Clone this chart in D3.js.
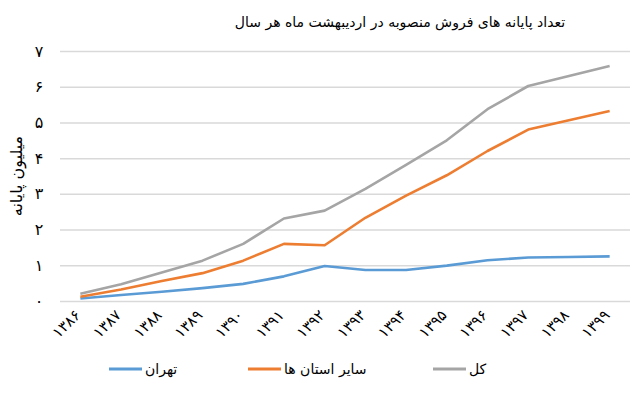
<!DOCTYPE html>
<html>
<head>
<meta charset="utf-8">
<script src="https://cdn.jsdelivr.net/npm/d3@7"></script>
<style>
  body { margin: 0; background: #fff; }
  text { font-family: "DejaVu Sans", sans-serif; fill: #000; }
  .grid line { stroke: #d9d9d9; stroke-width: 1.5; }
  .grid path { display: none; }
  .line { fill: none; stroke-width: 2.6; stroke-linejoin: round; }
</style>
</head>
<body>
<svg id="chart"></svg>
<script>
var years = ["۱۳۸۶", "۱۳۸۷", "۱۳۸۸", "۱۳۸۹", "۱۳۹۰", "۱۳۹۱", "۱۳۹۲", "۱۳۹۳", "۱۳۹۴", "۱۳۹۵", "۱۳۹۶", "۱۳۹۷", "۱۳۹۸", "۱۳۹۹"];
var tehran = [0.07, 0.17, 0.26, 0.36, 0.48, 0.69, 0.98, 0.87, 0.87, 0.99, 1.14, 1.22, 1.23, 1.25];
var provinces = [0.12, 0.32, 0.56, 0.78, 1.13, 1.6, 1.56, 2.33, 2.95, 3.52, 4.2, 4.8, 5.06, 5.32];
var total = [0.2, 0.47, 0.8, 1.13, 1.6, 2.31, 2.53, 3.14, 3.81, 4.5, 5.37, 6.02, 6.3, 6.58];
var yTicks = [0, 1, 2, 3, 4, 5, 6, 7];
var seriesNames = ["تهران", "سایر استان ها", "کل"];
var colors = ["#5b9bd5", "#ed7d31", "#a5a5a5"];

var title = "تعداد پایانه های فروش منصوبه در اردیبهشت ماه هر سال";
var yLabel = "میلیون پایانه";

var margin = {top: 51, right: 10, bottom: 94, left: 60};
var width = 640 - margin.left - margin.right,
    height = 395 - margin.top - margin.bottom;

var faDigits = "۰۱۲۳۴۵۶۷۸۹";
function fa(n) { return String(n).replace(/\d/g, function(c){ return faDigits[+c]; }); }

var svg = d3.select("#chart")
    .attr("width", 640)
    .attr("height", 395)
  .append("g")
    .attr("transform", "translate(" + margin.left + "," + margin.top + ")");

var x = d3.scaleBand().domain(years).range([0, width]);
var y = d3.scaleLinear().domain([0, 7]).range([height, 0]);

//Gridlines
svg.append("g")
  .attr("class", "grid")
  .call(d3.axisLeft(y).tickValues(yTicks).tickSize(-width).tickFormat(""));

//Y tick labels
svg.selectAll(".ytick")
  .data(yTicks)
  .enter().append("text")
    .attr("class", "ytick")
    .attr("x", -21)
    .attr("y", function(d){ return y(d); })
    .attr("dy", "0.35em")
    .attr("text-anchor", "middle")
    .style("font-size", "16px")
    .text(function(d){ return fa(d); });

//X labels, rotated
svg.selectAll(".xtick")
  .data(years)
  .enter().append("text")
    .attr("class", "xtick")
    .attr("transform", function(d){
      return "translate(" + (x(d) + x.bandwidth() / 2 + 1) + "," + (height + 15) + ") rotate(-45)";
    })
    .attr("text-anchor", "end")
    .style("font-size", "15px")
    .text(function(d){ return d; });

//Y axis label
svg.append("text")
  .attr("transform", "rotate(-90)")
  .attr("x", 0 - height / 2)
  .attr("y", -38)
  .attr("text-anchor", "middle")
  .style("font-size", "16px")
  .text(yLabel);

//Title
svg.append("text")
  .attr("x", 400 - margin.left)
  .attr("y", 27 - margin.top)
  .attr("text-anchor", "middle")
  .style("font-size", "14px")
  .text(title);

//Lines
var line = d3.line()
  .x(function(d, i){ return x(years[i]) + x.bandwidth() / 2; })
  .y(function(d){ return y(d); });

[tehran, provinces, total].forEach(function(s, i){
  svg.append("path")
    .datum(s)
    .attr("class", "line")
    .style("stroke", colors[i])
    .attr("d", line);
});

//Legend
var legendX = [109, 248, 433];
var legend = d3.select("#chart").selectAll(".legend")
  .data(seriesNames)
  .enter().append("g")
    .attr("class", "legend")
    .attr("transform", function(d, i){ return "translate(" + legendX[i] + ",369)"; });

legend.append("line")
  .attr("x1", 0).attr("x2", 33)
  .attr("y1", 0).attr("y2", 0)
  .style("stroke", function(d, i){ return colors[i]; })
  .style("stroke-width", 3);

legend.append("text")
  .attr("x", 36)
  .attr("dy", "0.35em")
  .style("font-size", "14px")
  .text(function(d){ return d; });
</script>
</body>
</html>
